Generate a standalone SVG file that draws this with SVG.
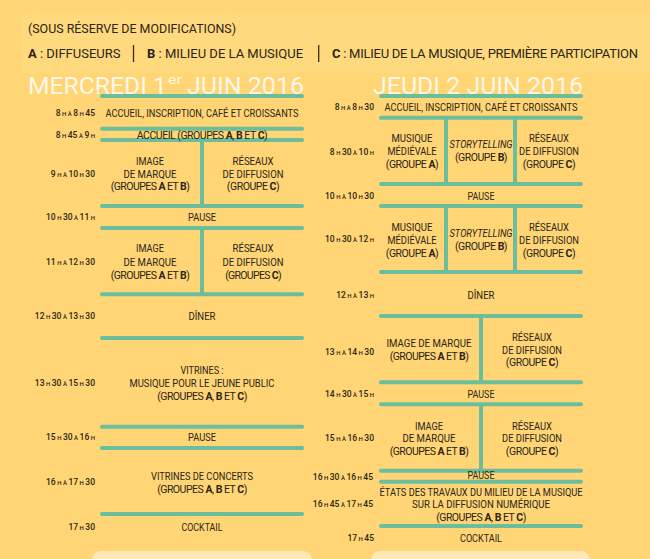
<svg xmlns="http://www.w3.org/2000/svg" width="650" height="559" viewBox="0 0 650 559">
<style>
text{font-family:Roboto,"Liberation Sans",sans-serif;fill:#2b2417}
.m{font-size:10.5px;text-anchor:middle}
.t{font-size:8.5px;text-anchor:end;font-weight:500}
.s{font-size:6px}
.b{font-weight:bold}
.i{font-style:italic}
.h{font-size:13px}
.ti{font-size:24px;fill:#fff7e8}
.g1{letter-spacing:-0.55px}
.g2{letter-spacing:-0.47px}
.g3{letter-spacing:-0.68px}
.g4{letter-spacing:-0.49px}
.ln{stroke:#6bbd9b;stroke-width:4;stroke-linecap:round;fill:none}
.v{stroke-linecap:butt}
.sep{stroke:#3a2a12;stroke-width:1.3}
</style>
<rect x="0" y="0" width="650" height="559" fill="#ffd575"/>
<rect x="21" y="13" width="629" height="60" fill="#ffd97d"/>
<rect x="92" y="551" width="220" height="24" rx="9" fill="#ffe8b5"/>
<rect x="371" y="551" width="219" height="24" rx="9" fill="#ffe8b5"/>

<g id="header">
<text class="h" x="28" y="33" textLength="208" lengthAdjust="spacingAndGlyphs">(SOUS RÉSERVE DE MODIFICATIONS)</text>
<text class="h" x="28" y="58"><tspan class="b">A</tspan> : DIFFUSEURS</text>
<line class="sep" x1="133.5" y1="45" x2="133.5" y2="62"/>
<text class="h" x="147" y="58"><tspan class="b">B</tspan> : MILIEU DE LA MUSIQUE</text>
<line class="sep" x1="318.7" y1="45" x2="318.7" y2="62"/>
<text class="h" x="332" y="58" style="letter-spacing:-0.25px"><tspan class="b">C</tspan> : MILIEU DE LA MUSIQUE, PREMIÈRE PARTICIPATION</text>
</g>

<g id="title-mercredi">
<text class="ti" x="28" y="93.5" textLength="139" lengthAdjust="spacingAndGlyphs">MERCREDI 1</text>
<text class="ti" x="168" y="84" style="font-size:12px" textLength="14" lengthAdjust="spacingAndGlyphs">er</text>
<text class="ti" x="187" y="93.5" textLength="117" lengthAdjust="spacingAndGlyphs">JUIN 2016</text>
</g>
<g id="title-jeudi">
<text class="ti" x="373" y="93.5" textLength="210" lengthAdjust="spacingAndGlyphs">JEUDI 2 JUIN 2016</text>
</g>

<g id="connectors">
<line class="ln" x1="102" y1="96" x2="302" y2="96"/>
<line class="ln" x1="102" y1="128.7" x2="302" y2="128.7"/>
<line class="ln" x1="102" y1="140" x2="302" y2="140"/>
<line class="ln v" x1="202" y1="140" x2="202" y2="206"/>
<line class="ln" x1="102" y1="206" x2="302" y2="206"/>
<line class="ln" x1="102" y1="228" x2="302" y2="228"/>
<line class="ln v" x1="202" y1="228" x2="202" y2="294.3"/>
<line class="ln" x1="102" y1="294.3" x2="302" y2="294.3"/>
<line class="ln" x1="102" y1="338" x2="302" y2="338"/>
<line class="ln" x1="102" y1="426.7" x2="302" y2="426.7"/>
<line class="ln" x1="102" y1="448" x2="302" y2="448"/>
<line class="ln" x1="102" y1="514" x2="302" y2="514"/>

<line class="ln" x1="381" y1="96" x2="581" y2="96"/>
<line class="ln" x1="381" y1="117.7" x2="581" y2="117.7"/>
<line class="ln v" x1="446" y1="117.7" x2="446" y2="184"/>
<line class="ln v" x1="515" y1="117.7" x2="515" y2="184"/>
<line class="ln" x1="381" y1="184" x2="581" y2="184"/>
<line class="ln" x1="381" y1="206" x2="581" y2="206"/>
<line class="ln v" x1="446" y1="206" x2="446" y2="272"/>
<line class="ln v" x1="515" y1="206" x2="515" y2="272"/>
<line class="ln" x1="381" y1="272" x2="581" y2="272"/>
<line class="ln" x1="381" y1="316" x2="581" y2="316"/>
<line class="ln v" x1="481" y1="316" x2="481" y2="382.3"/>
<line class="ln" x1="381" y1="382.3" x2="581" y2="382.3"/>
<line class="ln" x1="381" y1="404.3" x2="581" y2="404.3"/>
<line class="ln v" x1="481" y1="404.3" x2="481" y2="470.7"/>
<line class="ln" x1="381" y1="470.7" x2="581" y2="470.7"/>
<line class="ln" x1="381" y1="481.7" x2="581" y2="481.7"/>
<line class="ln" x1="381" y1="526" x2="581" y2="526"/>
</g>

<!-- Mercredi -->
<g id="w1">
<text class="t" x="95" y="116">8<tspan class="s"> H À </tspan>8<tspan class="s"> H </tspan>45</text>
<text class="m" x="202" y="117" textLength="193" lengthAdjust="spacingAndGlyphs">ACCUEIL, INSCRIPTION, CAFÉ ET CROISSANTS</text>
</g>
<g id="w2">
<text class="t" x="95" y="138">8<tspan class="s"> H </tspan>45<tspan class="s"> À </tspan>9<tspan class="s"> H</tspan></text>
<text class="m" x="202" y="138.5" style="letter-spacing:-0.48px">ACCUEIL (GROUPES <tspan class="b">A</tspan>, <tspan class="b">B</tspan> ET <tspan class="b">C</tspan>)</text>
</g>
<g id="w3">
<text class="t" x="95" y="177">9<tspan class="s"> H À </tspan>10<tspan class="s"> H </tspan>30</text>
<text class="m" x="150" y="165" textLength="28" lengthAdjust="spacingAndGlyphs">IMAGE</text>
<text class="m" x="150" y="177.5" textLength="53" lengthAdjust="spacingAndGlyphs">DE MARQUE</text>
<text class="m g1" x="150" y="190">(GROUPES <tspan class="b">A</tspan> ET <tspan class="b">B</tspan>)</text>
</g>
<g id="w4">
<text class="m" x="253" y="165" textLength="41" lengthAdjust="spacingAndGlyphs">RÉSEAUX</text>
<text class="m" x="253" y="177.5" textLength="61" lengthAdjust="spacingAndGlyphs">DE DIFFUSION</text>
<text class="m g2" x="253" y="190">(GROUPE <tspan class="b">C</tspan>)</text>
</g>
<g id="w5">
<text class="t" x="95" y="220">10<tspan class="s"> H </tspan>30<tspan class="s"> À </tspan>11<tspan class="s"> H</tspan></text>
<text class="m" x="202" y="221" textLength="28" lengthAdjust="spacingAndGlyphs">PAUSE</text>
</g>
<g id="w6">
<text class="t" x="95" y="265">11<tspan class="s"> H À </tspan>12<tspan class="s"> H </tspan>30</text>
<text class="m" x="150" y="252.3" textLength="28" lengthAdjust="spacingAndGlyphs">IMAGE</text>
<text class="m" x="150" y="266" textLength="53" lengthAdjust="spacingAndGlyphs">DE MARQUE</text>
<text class="m g1" x="150" y="279">(GROUPES <tspan class="b">A</tspan> ET <tspan class="b">B</tspan>)</text>
</g>
<g id="w7">
<text class="m" x="253" y="252.3" textLength="41" lengthAdjust="spacingAndGlyphs">RÉSEAUX</text>
<text class="m" x="253" y="266" textLength="61" lengthAdjust="spacingAndGlyphs">DE DIFFUSION</text>
<text class="m g3" x="253" y="279">(GROUPES <tspan class="b">C</tspan>)</text>
</g>
<g id="w8">
<text class="t" x="95" y="319">12<tspan class="s"> H </tspan>30<tspan class="s"> À </tspan>13<tspan class="s"> H </tspan>30</text>
<text class="m" x="202" y="320" textLength="27" lengthAdjust="spacingAndGlyphs">DÎNER</text>
</g>
<g id="w9">
<text class="t" x="95" y="386">13<tspan class="s"> H </tspan>30<tspan class="s"> À </tspan>15<tspan class="s"> H </tspan>30</text>
<text class="m" x="202" y="374" textLength="43" lengthAdjust="spacingAndGlyphs">VITRINES :</text>
<text class="m" x="202" y="387" textLength="145" lengthAdjust="spacingAndGlyphs">MUSIQUE POUR LE JEUNE PUBLIC</text>
<text class="m g4" x="202" y="400">(GROUPES <tspan class="b">A</tspan>, <tspan class="b">B</tspan> ET <tspan class="b">C</tspan>)</text>
</g>
<g id="w10">
<text class="t" x="95" y="440">15<tspan class="s"> H </tspan>30<tspan class="s"> À </tspan>16<tspan class="s"> H</tspan></text>
<text class="m" x="202" y="441" textLength="28" lengthAdjust="spacingAndGlyphs">PAUSE</text>
</g>
<g id="w11">
<text class="t" x="95" y="485">16<tspan class="s"> H À </tspan>17<tspan class="s"> H </tspan>30</text>
<text class="m" x="202" y="480" textLength="102" lengthAdjust="spacingAndGlyphs">VITRINES DE CONCERTS</text>
<text class="m g4" x="202" y="492.5">(GROUPES <tspan class="b">A</tspan>, <tspan class="b">B</tspan> ET <tspan class="b">C</tspan>)</text>
</g>
<g id="w12">
<text class="t" x="95" y="530">17<tspan class="s"> H </tspan>30</text>
<text class="m" x="202" y="531" textLength="41" lengthAdjust="spacingAndGlyphs">COCKTAIL</text>
</g>

<!-- Jeudi -->
<g id="j1">
<text class="t" x="374" y="110">8<tspan class="s"> H À </tspan>8<tspan class="s"> H </tspan>30</text>
<text class="m" x="481" y="111.3" textLength="193" lengthAdjust="spacingAndGlyphs">ACCUEIL, INSCRIPTION, CAFÉ ET CROISSANTS</text>
</g>
<g id="j2">
<text class="t" x="374" y="154.7">8<tspan class="s"> H </tspan>30<tspan class="s"> À </tspan>10<tspan class="s"> H</tspan></text>
<text class="m" x="412" y="142.3" textLength="41" lengthAdjust="spacingAndGlyphs">MUSIQUE</text>
<text class="m" x="412" y="155" textLength="49" lengthAdjust="spacingAndGlyphs">MÉDIÉVALE</text>
<text class="m g2" x="412" y="168">(GROUPE <tspan class="b">A</tspan>)</text>
</g>
<g id="j3">
<text class="m i" x="481" y="148.3" textLength="63" lengthAdjust="spacingAndGlyphs">STORYTELLING</text>
<text class="m g2" x="481" y="161.3">(GROUPE <tspan class="b">B</tspan>)</text>
</g>
<g id="j4">
<text class="m" x="549" y="142.3" textLength="40" lengthAdjust="spacingAndGlyphs">RÉSEAUX</text>
<text class="m" x="549" y="155" textLength="60" lengthAdjust="spacingAndGlyphs">DE DIFFUSION</text>
<text class="m g2" x="549" y="168">(GROUPE <tspan class="b">C</tspan>)</text>
</g>
<g id="j5">
<text class="t" x="374" y="198.7">10<tspan class="s"> H À </tspan>10<tspan class="s"> H </tspan>30</text>
<text class="m" x="481" y="199.7" textLength="27" lengthAdjust="spacingAndGlyphs">PAUSE</text>
</g>
<g id="j6">
<text class="t" x="374" y="242.3">10<tspan class="s"> H </tspan>30<tspan class="s"> À </tspan>12<tspan class="s"> H</tspan></text>
<text class="m" x="412" y="230.7" textLength="41" lengthAdjust="spacingAndGlyphs">MUSIQUE</text>
<text class="m" x="412" y="244" textLength="49" lengthAdjust="spacingAndGlyphs">MÉDIÉVALE</text>
<text class="m g2" x="412" y="256.7">(GROUPE <tspan class="b">A</tspan>)</text>
</g>
<g id="j7">
<text class="m i" x="481" y="237" textLength="63" lengthAdjust="spacingAndGlyphs">STORYTELLING</text>
<text class="m g2" x="481" y="250">(GROUPE <tspan class="b">B</tspan>)</text>
</g>
<g id="j8">
<text class="m" x="549" y="230.7" textLength="40" lengthAdjust="spacingAndGlyphs">RÉSEAUX</text>
<text class="m" x="549" y="244" textLength="60" lengthAdjust="spacingAndGlyphs">DE DIFFUSION</text>
<text class="m g2" x="549" y="256.7">(GROUPE <tspan class="b">C</tspan>)</text>
</g>
<g id="j9">
<text class="t" x="374" y="298">12<tspan class="s"> H À </tspan>13<tspan class="s"> H</tspan></text>
<text class="m" x="481" y="299" textLength="27" lengthAdjust="spacingAndGlyphs">DÎNER</text>
</g>
<g id="j10">
<text class="t" x="374" y="354.7">13<tspan class="s"> H À </tspan>14<tspan class="s"> H </tspan>30</text>
<text class="m" x="429" y="347.3" textLength="85" lengthAdjust="spacingAndGlyphs">IMAGE DE MARQUE</text>
<text class="m g1" x="429" y="360">(GROUPES <tspan class="b">A</tspan> ET <tspan class="b">B</tspan>)</text>
</g>
<g id="j11">
<text class="m" x="532" y="341.3" textLength="40" lengthAdjust="spacingAndGlyphs">RÉSEAUX</text>
<text class="m" x="532" y="354" textLength="60" lengthAdjust="spacingAndGlyphs">DE DIFFUSION</text>
<text class="m g2" x="532" y="366.3">(GROUPE <tspan class="b">C</tspan>)</text>
</g>
<g id="j12">
<text class="t" x="374" y="397">14<tspan class="s"> H </tspan>30<tspan class="s"> À </tspan>15<tspan class="s"> H</tspan></text>
<text class="m" x="481" y="398" textLength="27" lengthAdjust="spacingAndGlyphs">PAUSE</text>
</g>
<g id="j13">
<text class="t" x="374" y="440.7">15<tspan class="s"> H À </tspan>16<tspan class="s"> H </tspan>30</text>
<text class="m" x="429" y="429.7" textLength="28" lengthAdjust="spacingAndGlyphs">IMAGE</text>
<text class="m" x="429" y="442.3" textLength="53" lengthAdjust="spacingAndGlyphs">DE MARQUE</text>
<text class="m g1" x="429" y="455">(GROUPES <tspan class="b">A</tspan> ET <tspan class="b">B</tspan>)</text>
</g>
<g id="j14">
<text class="m" x="532" y="429.7" textLength="40" lengthAdjust="spacingAndGlyphs">RÉSEAUX</text>
<text class="m" x="532" y="442.3" textLength="60" lengthAdjust="spacingAndGlyphs">DE DIFFUSION</text>
<text class="m g2" x="532" y="455">(GROUPE <tspan class="b">C</tspan>)</text>
</g>
<g id="j15">
<text class="t" x="373" y="479.7">16<tspan class="s"> H </tspan>30<tspan class="s"> À </tspan>16<tspan class="s"> H </tspan>45</text>
<text class="m" x="481" y="479.3" style="font-size:10px" textLength="27" lengthAdjust="spacingAndGlyphs">PAUSE</text>
</g>
<g id="j16">
<text class="t" x="373" y="507">16<tspan class="s"> H </tspan>45<tspan class="s"> À </tspan>17<tspan class="s"> H </tspan>45</text>
<text class="m" x="481" y="495.7" textLength="203" lengthAdjust="spacingAndGlyphs">ÉTATS DES TRAVAUX DU MILIEU DE LA MUSIQUE</text>
<text class="m" x="481" y="508" textLength="138" lengthAdjust="spacingAndGlyphs">SUR LA DIFFUSION NUMÉRIQUE</text>
<text class="m g4" x="481" y="521.3">(GROUPES <tspan class="b">A</tspan>, <tspan class="b">B</tspan> ET <tspan class="b">C</tspan>)</text>
</g>
<g id="j17">
<text class="t" x="374" y="540.7">17<tspan class="s"> H </tspan>45</text>
<text class="m" x="481" y="541.7" textLength="42" lengthAdjust="spacingAndGlyphs">COCKTAIL</text>
</g>
</svg>
